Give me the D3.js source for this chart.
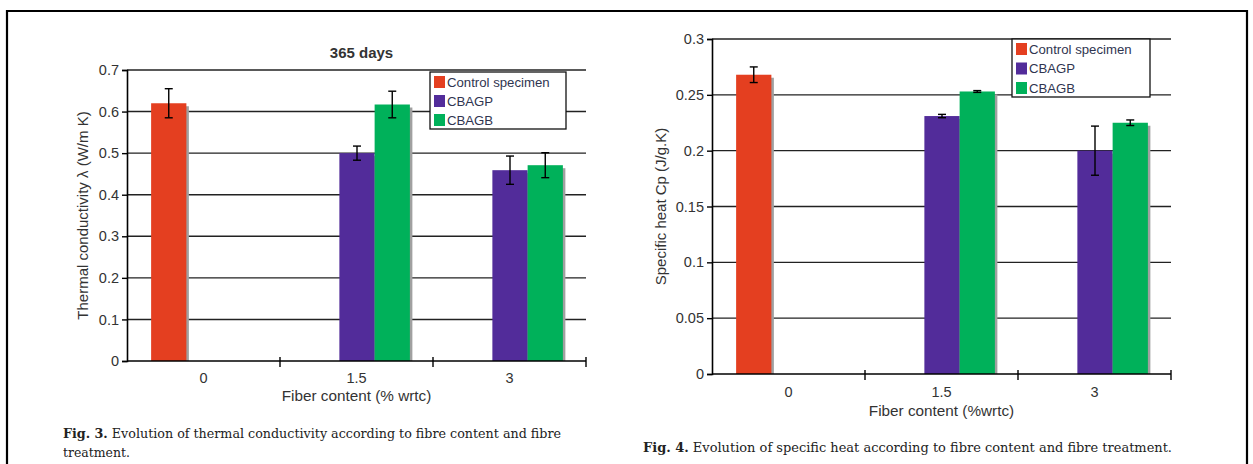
<!DOCTYPE html>
<html><head><meta charset="utf-8">
<script src="https://cdn.jsdelivr.net/npm/d3@7"></script>
<style>body{margin:0;background:#fff}svg{display:block}</style>
</head><body>
<svg id="c" width="1253" height="464"></svg>
<script>
const categories = ["0", "1.5", "3"];
const seriesNames = ["Control specimen", "CBAGP", "CBAGB"];
const seriesColors = ["#e43f20", "#522c9a", "#00b15a"];
// Fig. 3: thermal conductivity (W/m K)
const condControl = [0.62, null, null];
const condCBAGP   = [null, 0.50, 0.459];
const condCBAGB   = [null, 0.617, 0.471];
const condErrControl = [0.035, null, null];
const condErrCBAGP   = [null, 0.017, 0.034];
const condErrCBAGB   = [null, 0.032, 0.030];
const condTicks = [0, 0.1, 0.2, 0.3, 0.4, 0.5, 0.6, 0.7];
// Fig. 4: specific heat (J/g.K)
const heatControl = [0.268, null, null];
const heatCBAGP   = [null, 0.231, 0.200];
const heatCBAGB   = [null, 0.253, 0.225];
const heatErrControl = [0.007, null, null];
const heatErrCBAGP   = [null, 0.0015, 0.022];
const heatErrCBAGB   = [null, 0.0008, 0.0025];
const heatTicks = [0, 0.05, 0.1, 0.15, 0.2, 0.25, 0.3];

const svg = d3.select("#c");
const txt = "#333";
const font = "'Liberation Sans', Arial, sans-serif";

// outer frame
svg.append("path").attr("d","M7,470 V11 H1247 V470").attr("fill","none").attr("stroke","#000").attr("stroke-width",2.2);

function panel(o){
  const g = svg.append("g");
  const x0 = d3.scaleBand().domain(categories).range([o.left, o.right]).padding(0);
  const x1 = d3.scaleBand().domain(seriesNames).range([0, x0.bandwidth()]).paddingInner(0).paddingOuter(0.67);
  const y = d3.scaleLinear().domain([0, o.max]).range([o.bottom, o.top]);
  // gridlines
  g.append("g").selectAll("line").data(o.ticks.filter(d=>d>0)).join("line")
    .attr("x1", o.left).attr("x2", o.right).attr("y1", d=>y(d)).attr("y2", d=>y(d))
    .attr("stroke","#222").attr("stroke-width",1.4);
  // bars
  const data = [];
  o.series.forEach((vals, si) => vals.forEach((v, ci) => {
    if (v != null) data.push({c: categories[ci], s: seriesNames[si], v, e: o.errs[si][ci], col: seriesColors[si]});
  }));
  const bars = g.append("g");
  bars.selectAll("rect.sh").data(data).join("rect").attr("class","sh")
    .attr("x", d=>x0(d.c)+x1(d.s)+3).attr("width", x1.bandwidth())
    .attr("y", d=>y(d.v)+3).attr("height", d=>o.bottom-y(d.v)-3).attr("fill","#a0a0a0");
  bars.selectAll("rect.b").data(data).join("rect").attr("class","b")
    .attr("x", d=>x0(d.c)+x1(d.s)+0.5).attr("width", x1.bandwidth())
    .attr("y", d=>y(d.v)).attr("height", d=>o.bottom-y(d.v)).attr("fill", d=>d.col);
  // error bars
  const eb = g.append("g").attr("stroke","#000").attr("stroke-width",1.4);
  data.forEach(d => {
    const cx = x0(d.c)+x1(d.s)+0.5+x1.bandwidth()/2;
    const y1 = y(d.v+d.e), y2 = y(d.v-d.e);
    eb.append("line").attr("x1",cx).attr("x2",cx).attr("y1",y1).attr("y2",y2);
    eb.append("line").attr("x1",cx-4).attr("x2",cx+4).attr("y1",y1).attr("y2",y1);
    eb.append("line").attr("x1",cx-4).attr("x2",cx+4).attr("y1",y2).attr("y2",y2);
  });
  // y axis
  const ya = d3.axisLeft(y).tickValues(o.ticks).tickSize(5).tickFormat(d=>String(+d.toFixed(2)));
  const yg = g.append("g").attr("transform",`translate(${o.left},0)`).call(ya);
  yg.attr("font-family",font).attr("font-size",14.5);
  yg.select(".domain").attr("stroke","#000").attr("stroke-width",1.6);
  yg.selectAll(".tick line").attr("stroke","#000").attr("stroke-width",1.4);
  yg.selectAll(".tick text").attr("fill",txt).attr("x",-8);
  // x axis
  const bx = [o.left, ...categories.map(c=>x0(c)+x0.bandwidth())];
  g.append("line").attr("x1",o.left).attr("x2",o.right).attr("y1",o.bottom).attr("y2",o.bottom).attr("stroke","#000").attr("stroke-width",1.6);
  g.append("g").selectAll("line").data(bx.slice(1)).join("line")
    .attr("x1",d=>d).attr("x2",d=>d).attr("y1",o.bottom-4).attr("y2",o.bottom+6).attr("stroke","#000").attr("stroke-width",1.4);
  g.append("g").selectAll("text").data(categories).join("text")
    .attr("x", d=>x0(d)+x0.bandwidth()/2).attr("y", o.bottom+o.xlabDy)
    .attr("text-anchor","middle").attr("font-family",font).attr("font-size",14.5).attr("fill",txt).text(d=>d);
  g.append("text").attr("x",(o.left+o.right)/2).attr("y",o.bottom+o.xtitleDy)
    .attr("text-anchor","middle").attr("font-family",font).attr("font-size",15.3).attr("fill",txt).text(o.xtitle);
  g.append("text").attr("transform",`translate(${o.ytx},${(o.top+o.bottom)/2}) rotate(-90)`)
    .attr("text-anchor","middle").attr("font-family",font).attr("font-size",15).attr("fill",txt).text(o.ytitle);
  if (o.title) g.append("text").attr("x",(o.left+o.right)/2+5).attr("y",o.top-12)
    .attr("text-anchor","middle").attr("font-family",font).attr("font-size",15).attr("font-weight","bold").attr("fill",txt).text(o.title);
  // legend
  const L = o.legend;
  g.append("rect").attr("x",L.x).attr("y",L.y).attr("width",L.w).attr("height",L.h).attr("fill","#fff").attr("stroke","#111").attr("stroke-width",1.3);
  seriesNames.forEach((s,i)=>{
    const cy = L.y + 10 + i*L.step;
    g.append("rect").attr("x",L.x+4).attr("y",cy-6).attr("width",11).attr("height",12).attr("fill",seriesColors[i]);
    g.append("text").attr("x",L.x+17).attr("y",cy+4.8).attr("font-family",font).attr("font-size",13.2).attr("fill","#2f3550").text(s);
  });
  // caption
  const cap = g.append("g").attr("font-family","'DejaVu Serif Condensed', 'DejaVu Serif', serif").attr("font-size",12.5).attr("fill","#222");
  o.caption.forEach(line=>{
    const t = cap.append("text").attr("x",o.capX).attr("y",line.y);
    if (line.w) t.attr("textLength",line.w).attr("lengthAdjust","spacingAndGlyphs");
    t.append("tspan").attr("font-weight","bold").text(line.bold||"");
    t.append("tspan").text(line.text);
  });
}

panel({left:127, right:586, top:70, bottom:361, max:0.7, ticks:condTicks,
  series:[condControl, condCBAGP, condCBAGB], errs:[condErrControl, condErrCBAGP, condErrCBAGB],
  title:"365 days", ytitle:"Thermal conductivity \u03bb (W/m K)", ytx:88,
  xtitle:"Fiber content (% wrtc)", xlabDy:22, xtitleDy:40,
  legend:{x:430, y:72, w:136, h:57, step:19},
  capX:63, caption:[{bold:"Fig. 3.", text:" Evolution of thermal conductivity according to fibre content and fibre", y:438, w:498},
                    {bold:"", text:"treatment.", y:457, w:67}]});

panel({left:712, right:1171, top:39, bottom:374, max:0.3, ticks:heatTicks,
  series:[heatControl, heatCBAGP, heatCBAGB], errs:[heatErrControl, heatErrCBAGP, heatErrCBAGB],
  title:null, ytitle:"Specific heat Cp (J/g.K)", ytx:666,
  xtitle:"Fiber content (%wrtc)", xlabDy:23, xtitleDy:42,
  legend:{x:1012, y:39, w:138, h:58, step:19.5},
  capX:643, caption:[{bold:"Fig. 4.", text:"  Evolution of specific heat according to fibre content and fibre treatment.", y:452, w:529}]});
</script>
</body></html>
